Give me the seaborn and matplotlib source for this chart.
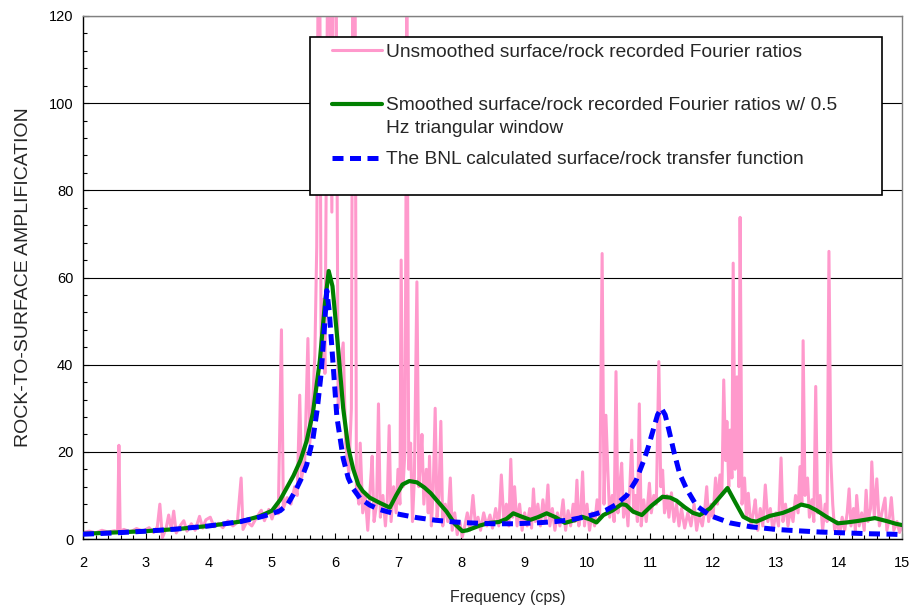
import numpy as np
import pandas as pd
import seaborn as sns
import matplotlib.pyplot as plt
from matplotlib.patches import Rectangle
from matplotlib.ticker import MultipleLocator

# unsmoothed recorded surface/rock Fourier ratios
pink_freq = [2.00, 2.10, 2.20, 2.30, 2.40, 2.50, 2.55, 2.57, 2.59, 2.65, 2.75, 2.85, 2.95, 3.05, 3.12,
             3.18, 3.22, 3.26, 3.32, 3.36, 3.40, 3.44, 3.48, 3.55, 3.60, 3.65, 3.72, 3.78, 3.85, 3.90,
             3.95, 4.02, 4.08, 4.15, 4.22, 4.30, 4.38, 4.45, 4.51, 4.54, 4.60, 4.68, 4.75, 4.83, 4.88,
             4.95, 5.00, 5.06, 5.10, 5.15, 5.18, 5.24, 5.30, 5.36, 5.40, 5.44, 5.47, 5.52, 5.57, 5.60,
             5.64, 5.68, 5.71, 5.73, 5.76, 5.78, 5.81, 5.84, 5.88, 5.92, 5.95, 5.97, 6.02, 6.05, 6.09,
             6.13, 6.17, 6.22, 6.26, 6.28, 6.32, 6.34, 6.38, 6.40, 6.44, 6.48, 6.52, 6.56, 6.59, 6.62,
             6.66, 6.69, 6.72, 6.76, 6.80, 6.83, 6.86, 6.89, 6.93, 6.97, 7.00, 7.03, 7.05, 7.08, 7.11,
             7.14, 7.17, 7.20, 7.23, 7.26, 7.30, 7.33, 7.36, 7.38, 7.41, 7.45, 7.48, 7.50, 7.53, 7.56,
             7.59, 7.62, 7.65, 7.68, 7.71, 7.75, 7.79, 7.83, 7.86, 7.90, 7.94, 7.98, 8.02, 8.06, 8.10,
             8.14, 8.19, 8.23, 8.27, 8.31, 8.36, 8.41, 8.46, 8.50, 8.55, 8.60, 8.64, 8.68, 8.72, 8.76,
             8.79, 8.82, 8.85, 8.89, 8.93, 8.97, 9.01, 9.05, 9.09, 9.12, 9.15, 9.18, 9.22, 9.26, 9.30,
             9.34, 9.38, 9.41, 9.45, 9.49, 9.53, 9.57, 9.62, 9.66, 9.70, 9.74, 9.78, 9.81, 9.84, 9.87,
             9.90, 9.93, 9.96, 10.00, 10.04, 10.08, 10.12, 10.16, 10.20, 10.24, 10.27, 10.30, 10.33, 10.36, 10.40,
             10.43, 10.46, 10.49, 10.52, 10.55, 10.58, 10.62, 10.65, 10.68, 10.71, 10.74, 10.77, 10.80, 10.83, 10.86,
             10.90, 10.94, 10.99, 11.02, 11.06, 11.10, 11.14, 11.17, 11.20, 11.23, 11.27, 11.30, 11.34, 11.38, 11.42,
             11.46, 11.50, 11.55, 11.60, 11.65, 11.70, 11.74, 11.78, 11.83, 11.87, 11.90, 11.93, 11.97, 12.00, 12.04,
             12.07, 12.11, 12.14, 12.17, 12.20, 12.22, 12.25, 12.27, 12.30, 12.32, 12.35, 12.38, 12.41, 12.43, 12.46,
             12.50, 12.53, 12.56, 12.60, 12.64, 12.67, 12.71, 12.75, 12.79, 12.83, 12.87, 12.91, 12.95, 13.00, 13.04,
             13.08, 13.11, 13.15, 13.19, 13.23, 13.27, 13.31, 13.35, 13.38, 13.41, 13.43, 13.46, 13.50, 13.53, 13.57,
             13.60, 13.63, 13.66, 13.70, 13.74, 13.78, 13.81, 13.84, 13.87, 13.90, 13.93, 13.97, 14.01, 14.05, 14.09,
             14.13, 14.16, 14.19, 14.23, 14.26, 14.28, 14.32, 14.36, 14.40, 14.43, 14.46, 14.50, 14.52, 14.56, 14.60,
             14.64, 14.68, 14.73, 14.76, 14.80, 14.83, 14.87, 14.92, 14.96, 15.00]
pink_amp = [1.5, 1.8, 1.4, 2.0, 1.6, 1.9, 1.7, 21.5, 1.8, 2.2, 1.6, 2.4, 1.8, 2.6, 1.5,
            2.8, 8.0, 0.3, 2.5, 5.5, 2.2, 6.4, 1.4, 3.2, 4.2, 1.8, 3.5, 2.0, 5.2, 2.5,
            4.4, 5.0, 2.8, 3.6, 2.6, 4.2, 3.0, 3.8, 14.0, 2.2, 4.0, 3.0, 4.8, 6.6, 4.2,
            6.8, 4.6, 7.5, 5.8, 48.0, 7.0, 9.5, 8.0, 12.0, 10.0, 33.0, 14.0, 18.0, 46.0, 22.0,
            30.0, 42.0, 67.0, 125, 125, 40.0, 55.0, 38.0, 125, 125, 75.0, 125, 125, 30.0, 40.0,
            45.0, 22.0, 15.0, 30.0, 125, 125, 12.0, 8.0, 22.0, 6.0, 10.0, 2.0, 12.0, 19.0, 4.0,
            8.0, 31.0, 5.0, 10.0, 3.0, 9.0, 26.0, 4.0, 12.0, 6.0, 16.0, 8.0, 64.0, 12.0, 20.0,
            125, 16.0, 22.0, 4.0, 14.0, 59.0, 12.0, 18.0, 24.0, 8.0, 16.0, 6.0, 19.0, 3.0, 12.0,
            30.0, 5.0, 10.0, 27.0, 3.0, 8.0, 4.0, 14.0, 2.0, 6.0, 1.0, 4.0, 0.5, 3.0, 6.0,
            2.0, 10.0, 3.0, 5.0, 2.0, 6.0, 3.0, 5.5, 2.5, 7.0, 3.0, 14.7, 4.0, 8.0, 3.0,
            18.3, 5.0, 12.0, 3.0, 8.0, 2.0, 6.0, 3.0, 7.0, 2.5, 11.5, 4.0, 8.0, 3.0, 9.0,
            4.0, 12.4, 3.0, 7.0, 2.0, 6.0, 3.0, 9.0, 2.0, 6.5, 3.0, 8.0, 4.0, 13.5, 3.0,
            6.0, 15.4, 3.0, 8.0, 2.0, 6.0, 3.0, 9.0, 5.0, 65.5, 8.0, 28.4, 15.8, 5.0, 10.0,
            4.0, 38.4, 6.0, 12.0, 17.4, 5.0, 9.0, 3.0, 12.0, 22.7, 6.0, 10.0, 4.0, 31.0, 3.0,
            9.0, 4.0, 12.8, 6.0, 10.0, 8.0, 40.7, 12.0, 15.8, 6.0, 10.0, 5.0, 10.6, 4.0, 8.0,
            3.0, 7.0, 2.5, 6.0, 3.0, 8.0, 2.0, 5.5, 3.0, 7.0, 12.0, 4.0, 8.0, 5.0, 14.0,
            8.0, 14.7, 10.0, 36.5, 18.0, 27.0, 12.0, 25.0, 14.0, 63.3, 16.0, 37.2, 12.0, 73.8, 8.0,
            14.0, 5.0, 10.5, 3.0, 6.0, 9.0, 2.0, 7.0, 3.0, 12.4, 4.0, 7.0, 2.0, 6.0, 3.0,
            18.6, 4.0, 8.0, 3.0, 7.0, 4.0, 10.0, 6.0, 16.6, 8.0, 45.5, 10.0, 14.0, 5.0, 9.0,
            4.0, 35.0, 6.0, 10.0, 2.0, 8.0, 4.0, 66.0, 18.0, 8.0, 2.0, 4.0, 1.0, 5.0, 2.0,
            6.0, 11.5, 3.0, 7.0, 2.0, 10.0, 3.0, 6.0, 2.0, 11.2, 4.0, 7.0, 17.7, 5.0, 13.8,
            3.0, 6.0, 9.4, 2.0, 5.0, 9.5, 2.0, 4.0, 1.5, 3.0]

# smoothed ratios, 0.5 Hz triangular window
green_freq = [2.0, 2.5, 3.0, 3.5, 4.0, 4.5, 4.8, 5.0, 5.13, 5.34, 5.45, 5.55, 5.65, 5.76, 5.84,
              5.9, 5.96, 6.03, 6.13, 6.21, 6.29, 6.37, 6.44, 6.55, 6.71, 6.87, 6.97, 7.07, 7.18, 7.3,
              7.42, 7.52, 7.65, 7.77, 7.9, 8.02, 8.1, 8.3, 8.45, 8.6, 8.72, 8.83, 8.95, 9.1, 9.22,
              9.36, 9.5, 9.65, 9.8, 9.92, 10.05, 10.15, 10.26, 10.4, 10.55, 10.62, 10.73, 10.87, 11.02, 11.2,
              11.32, 11.42, 11.55, 11.68, 11.79, 11.95, 12.1, 12.23, 12.35, 12.48, 12.6, 12.69, 12.9, 13.11, 13.25,
              13.4, 13.52, 13.64, 13.8, 13.98, 14.12, 14.28, 14.45, 14.57, 14.76, 14.9, 15.0]
green_amp = [1.2, 1.5, 1.8, 2.3, 3.0, 4.0, 5.2, 6.5, 9.0, 14.5, 18.0, 22.5, 29.0, 41.0, 54.0,
             61.5, 58.0, 47.0, 30.0, 21.0, 16.0, 12.5, 11.0, 9.5, 8.3, 7.2, 10.0, 12.5, 13.3, 13.0,
             11.8, 10.5, 8.3, 6.3, 3.5, 1.8, 2.0, 3.1, 3.7, 3.9, 4.6, 5.9, 5.2, 4.4, 5.0,
             5.9, 5.0, 3.7, 4.3, 5.1, 4.5, 3.8, 5.5, 6.5, 8.0, 7.8, 6.3, 5.5, 7.6, 9.7,
             9.5, 8.8, 7.3, 6.0, 5.5, 7.0, 9.5, 11.7, 8.5, 5.1, 4.2, 4.0, 5.3, 6.0, 6.8,
             7.9, 7.5, 6.6, 5.1, 3.6, 3.8, 4.1, 4.5, 4.8, 4.1, 3.5, 3.2]

# BNL calculated transfer function
blue_freq = [2.0, 2.5, 3.0, 3.5, 4.0, 4.5, 4.8, 5.0, 5.13, 5.25, 5.37, 5.47, 5.55, 5.65, 5.72,
             5.78, 5.83, 5.87, 5.91, 5.96, 6.03, 6.13, 6.21, 6.29, 6.4, 6.55, 6.7, 6.9, 7.08, 7.3,
             7.6, 7.9, 8.14, 8.5, 8.85, 9.2, 9.5, 9.73, 9.95, 10.15, 10.3, 10.45, 10.63, 10.78, 10.9,
             10.97, 11.05, 11.12, 11.18, 11.24, 11.3, 11.38, 11.47, 11.58, 11.74, 11.95, 12.27, 12.6, 13.0, 13.33,
             13.7, 14.1, 14.5, 14.85, 15.0]
blue_amp = [1.1, 1.4, 1.8, 2.3, 3.0, 4.0, 5.0, 5.8, 6.5, 8.0, 11.0, 14.0, 17.0, 23.0, 30.0,
            38.0, 48.0, 57.0, 52.0, 42.0, 28.0, 18.5, 14.0, 11.5, 9.3, 7.8, 6.8, 6.0, 5.5, 4.9,
            4.3, 3.9, 3.7, 3.5, 3.5, 3.7, 4.0, 4.4, 5.0, 5.8, 6.6, 7.8, 10.0, 13.5, 18.0,
            21.0, 25.0, 28.5, 30.0, 28.5, 25.0, 20.0, 15.0, 11.5, 7.6, 5.4, 3.7, 2.8, 2.2, 1.9,
            1.6, 1.4, 1.2, 1.1, 1.0]

labels = ['Unsmoothed surface/rock recorded Fourier ratios',
          'Smoothed surface/rock recorded Fourier ratios w/ 0.5',
          'The BNL calculated surface/rock transfer function']
label2_cont = 'Hz triangular window'

sns.set_theme(style='white')
plt.rcParams['font.family'] = ['Liberation Sans', 'DejaVu Sans']

fig = plt.figure(figsize=(9.14, 6.13), dpi=100)
ax = fig.add_axes([0.0908, 0.1207, 0.8961, 0.8532])

sns.lineplot(x=pink_freq, y=pink_amp, ax=ax, color='#FF99CC', lw=2.2,
             estimator=None, label=labels[0], zorder=2)
sns.lineplot(x=green_freq, y=green_amp, ax=ax, color='#008000', lw=3.0,
             estimator=None, label=labels[1], zorder=3)
sns.lineplot(x=blue_freq, y=blue_amp, ax=ax, color='#0000FF', lw=3.6,
             estimator=None, label=labels[2], zorder=4)
ax.lines[-1].set_dashes([2.2, 1.3])
ax.lines[-1].set_dash_capstyle('butt')

ax.set_xlim(2, 15)
ax.set_ylim(0, 120)
ax.xaxis.set_major_locator(MultipleLocator(1))
ax.xaxis.set_minor_locator(MultipleLocator(0.2))
ax.yaxis.set_major_locator(MultipleLocator(20))
ax.yaxis.set_minor_locator(MultipleLocator(4))
ax.tick_params(which='both', direction='in', color='black', width=0.8,
               bottom=True, left=True, top=False, right=False)
ax.tick_params(which='major', length=4, labelsize=10.5, colors='black')
ax.tick_params(which='minor', length=3)
ax.tick_params(axis='x', pad=12)
ax.tick_params(axis='y', pad=7)
ax.yaxis.grid(True, which='major', color='black', lw=0.8)
ax.xaxis.grid(False)
for side in ['left', 'bottom']:
    ax.spines[side].set_color('black')
    ax.spines[side].set_linewidth(1.0)
for side in ['top', 'right']:
    ax.spines[side].set_color('#808080')
    ax.spines[side].set_linewidth(1.0)

ax.set_xlabel('Frequency (cps)', fontsize=11.5)
ax.xaxis.set_label_coords(0.519, -0.097)
ax.set_ylabel('ROCK-TO-SURFACE AMPLIFICATION', fontsize=14)
ax.yaxis.set_label_coords(-0.062, 0.5)

# legend box
box = Rectangle((0.2772, 0.6577), 0.6984, 0.3021, transform=ax.transAxes,
                facecolor='white', edgecolor='black', lw=1.2, zorder=5, clip_on=False)
ax.add_patch(box)
handles, _ = ax.get_legend_handles_labels()
leg = ax.legend(handles, labels, loc='upper left', bbox_to_anchor=(0.304, 0.948),
                frameon=False, borderpad=0, borderaxespad=0, fontsize=13.8,
                handlelength=2.6, handletextpad=0.2, labelspacing=1.9)
leg.set_zorder(6)

# second line of the smoothed-series label, placed under its first line
fig.canvas.draw()
bb = leg.get_texts()[1].get_window_extent()
fig.text(bb.x0 / fig.bbox.width, (bb.y0 - 23) / fig.bbox.height, label2_cont,
         fontsize=13.8, ha='left', va='bottom', zorder=7)

fig.savefig('out.png', dpi=100)
